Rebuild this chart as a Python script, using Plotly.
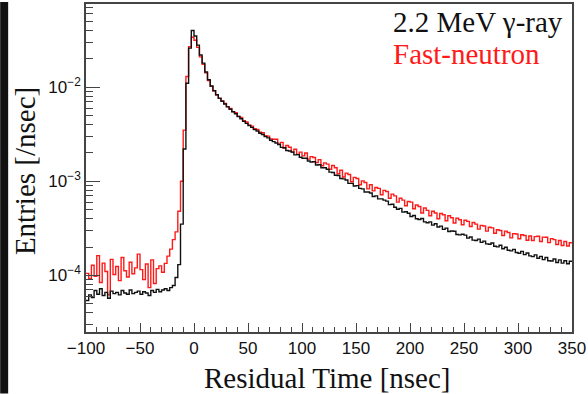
import numpy as np
import plotly.graph_objects as go

# Histogram binning: -100 .. 350 ns, 2.5 ns bins
bin_start = -100.0
bin_width = 2.5

# Entries [/nsec], values in units of 1e-5
gamma_e5 = [
    5.4, 6.2, 5.8, 6.9, 6.3, 7.2, 6.1, 6.6, 5.7, 6.8,
    6.4, 6.6, 6.2, 6.9, 6.5, 6.3, 7.0, 6.4, 6.6, 6.8,
    6.3, 6.7, 6.5, 6.1, 6.9, 6.6, 7.1, 6.7, 7.0, 7.2,
    6.9, 7.4, 7.8, 9.5, 13, 35, 220, 1100, 2600, 4000,
    3500, 2800, 2200, 1800, 1450, 1200, 1030, 920, 830, 760,
    710, 662, 618, 582, 548, 522, 488, 462, 433, 412,
    390, 374, 354, 342, 324, 314, 298, 289, 273, 264,
    255, 246, 229, 227, 212, 210, 204, 191, 192, 180,
    176, 176, 164, 160, 161, 149, 150, 139, 139, 134,
    125, 124, 116, 115, 107, 106, 103, 95, 95, 89,
    90, 84, 83, 77, 77, 75, 69, 70, 65, 65,
    63, 61.5, 56.5, 57, 53, 50.5, 51.5, 47, 47.5, 45.8,
    42.3, 43.2, 40, 39.2, 40.2, 37, 36.2, 37, 34.2, 35.3,
    32.6, 33.4, 30.8, 31.8, 29.2, 29.6, 29.4, 27.2, 26.9, 27.3,
    26.8, 24.9, 25.6, 23.7, 23.5, 24.3, 22.4, 23.1, 21.6, 21.4,
    22.1, 20.4, 20.1, 20.9, 19.2, 19.9, 18.5, 18.2, 18.9, 17.5,
    17.2, 18.0, 16.6, 17.3, 16.1, 15.8, 16.5, 15.2, 15.9, 14.7,
    15.5, 14.3, 14.2, 14.9, 13.7, 14.6, 13.5, 14.3, 13.3, 14.1,
]

neutron_e5 = [
    10.5, 9.2, 12.8, 9.8, 16.2, 8.4, 13.5, 11.0, 6.2, 14.8,
    10.2, 12.4, 8.8, 15.5, 11.2, 9.6, 13.8, 10.4, 12.0, 16.8,
    11.5, 9.0, 13.2, 7.4, 14.6, 8.2, 11.8, 12.6, 10.8, 13.4,
    16, 19, 24, 29, 48, 100, 350, 1300, 2700, 3400,
    3150, 2650, 2100, 1750, 1420, 1180, 1020, 910, 830, 765,
    715, 672, 622, 594, 550, 534, 490, 476, 440, 426,
    398, 386, 362, 356, 332, 328, 306, 302, 282, 280,
    280, 248, 259, 226, 240, 230, 205, 219, 193, 204,
    186, 200, 172, 183, 179, 158, 170, 146, 157, 152,
    134, 147, 139, 120, 131, 111, 122, 118, 99, 110,
    107, 92, 101, 97, 83, 92, 79, 86, 84, 72,
    80, 78, 66, 73, 70, 60, 66, 63, 55, 61,
    60, 51, 56, 54, 46, 52, 49, 43, 48, 46,
    40, 45.5, 44, 38, 43, 41, 36, 40.5, 39, 34.5,
    38.5, 37.5, 33, 36.5, 35, 31, 34, 33.5, 29.5, 32.5,
    32, 28, 30.5, 30, 26.5, 29.5, 28.5, 25, 27.8, 27.5,
    24.5, 27, 26.5, 23.6, 26.2, 23.5, 25.8, 26, 22.9, 25.5,
    25.4, 22.3, 24.6, 24, 21.3, 23.5, 20.8, 22.9, 20.5, 22.2,
]

x_tickvals = [-100, -50, 0, 50, 100, 150, 200, 250, 300, 350]
x_ticktext = ["\u2212100", "\u221250", "0", "50", "100", "150", "200", "250", "300", "350"]
y_tickvals = [1e-4, 1e-3, 1e-2]
y_ticktext = ["10<sup>\u22124</sup>", "10<sup>\u22123</sup>", "10<sup>\u22122</sup>"]

label_gamma = "2.2 MeV \u03b3-ray"
label_neutron = "Fast-neutron"
x_title = "Residual Time [nsec]"
y_title = "Entries [/nsec]"

n_bins = len(gamma_e5)
edges = bin_start + bin_width * np.arange(n_bins + 1)


def step_y(vals):
    v = list(np.array(vals) * 1e-5)
    return v + [v[-1]]


fig = go.Figure()
fig.add_trace(go.Scatter(x=edges, y=step_y(neutron_e5), mode="lines",
                         line=dict(color="#ff1a1a", width=1.4, shape="hv"),
                         showlegend=False))
fig.add_trace(go.Scatter(x=edges, y=step_y(gamma_e5), mode="lines",
                         line=dict(color="#111111", width=1.4, shape="hv"),
                         showlegend=False))

axis_col = "#444444"
fig.update_xaxes(range=[-100, 350], showgrid=False, zeroline=False,
                 showline=True, linecolor=axis_col, linewidth=1.5, mirror=True,
                 tickmode="array", tickvals=x_tickvals, ticktext=x_ticktext,
                 ticks="inside", ticklen=9, tickwidth=1, tickcolor=axis_col,
                 tickfont=dict(family="Liberation Sans", size=17, color="#111"),
                 minor=dict(ticks="inside", ticklen=5, dtick=10, tickcolor=axis_col, showgrid=False))
fig.update_yaxes(type="log", range=[np.log10(2.5e-5), np.log10(0.0766)],
                 showgrid=False, zeroline=False,
                 showline=True, linecolor=axis_col, linewidth=1.5, mirror=True,
                 tickmode="array", tickvals=y_tickvals, ticktext=y_ticktext,
                 ticks="inside", ticklen=14, tickwidth=1, tickcolor=axis_col,
                 tickfont=dict(family="Liberation Sans", size=17, color="#111"),
                 minor=dict(ticks="inside", ticklen=7, dtick="D1", tickcolor=axis_col, showgrid=False))

L, R, T, B = 86, 15, 2, 62
W, H = 588, 394
pw, ph = W - L - R, H - T - B


def px(xp):
    return (xp - L) / pw


def py(yp):
    return (H - B - yp) / ph


annots = [
    dict(text=x_title, x=px(328), y=py(378), xref="paper", yref="paper",
         xanchor="center", yanchor="middle", showarrow=False,
         font=dict(family="Liberation Serif", size=29, color="#111")),
    dict(text=y_title, x=px(25), y=py(170), xref="paper", yref="paper",
         xanchor="center", yanchor="middle", showarrow=False, textangle=-90,
         font=dict(family="Liberation Serif", size=29, color="#111")),
    dict(text=label_gamma, x=px(392), y=py(20), xref="paper", yref="paper",
         xanchor="left", yanchor="middle", showarrow=False,
         font=dict(family="Liberation Serif", size=29, color="#111")),
    dict(text=label_neutron, x=px(392), y=py(52), xref="paper", yref="paper",
         xanchor="left", yanchor="middle", showarrow=False,
         font=dict(family="Liberation Serif", size=29, color="#ff1a1a")),
]

shapes = [
    dict(type="rect", xref="paper", yref="paper", x0=px(0), x1=px(8), y0=py(H), y1=py(0),
         fillcolor="#111111", line=dict(width=0), layer="above"),
]

fig.update_layout(width=W, height=H, margin=dict(l=L, r=R, t=T, b=B),
                  paper_bgcolor="white", plot_bgcolor="white",
                  annotations=annots, shapes=shapes, showlegend=False)

fig.write_html("out.html", config={"displayModeBar": False},
               post_script="document.body.style.margin='0px';document.body.style.padding='0px';")
